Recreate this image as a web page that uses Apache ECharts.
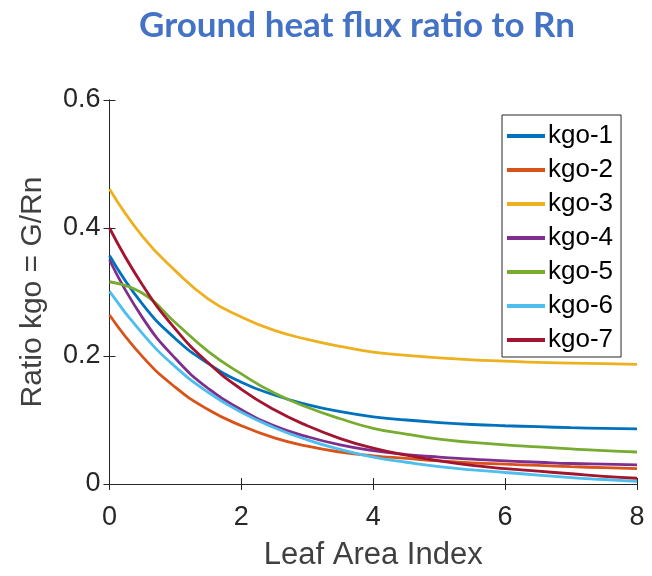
<!DOCTYPE html>
<html>
<head>
<meta charset="utf-8">
<script src="https://cdn.jsdelivr.net/npm/echarts@6/dist/echarts.min.js"></script>
<style>html,body{margin:0;padding:0;background:#fff;}#c{width:652px;height:576px;}</style>
</head>
<body>
<div id="c"></div>
<script>
const xs = [0, 0.5, 1, 1.5, 2, 2.5, 3, 3.5, 4, 4.5, 5, 5.5, 6, 6.5, 7, 7.5, 8];
const kgo1 = [0.357, 0.281, 0.227, 0.188, 0.159, 0.139, 0.124, 0.113, 0.105, 0.100, 0.096, 0.093, 0.091, 0.0895, 0.088, 0.087, 0.086];
const kgo2 = [0.264, 0.199, 0.151, 0.116, 0.091, 0.072, 0.059, 0.050, 0.044, 0.040, 0.036, 0.033, 0.031, 0.029, 0.027, 0.0255, 0.024];
const kgo3 = [0.461, 0.387, 0.333, 0.289, 0.261, 0.240, 0.226, 0.215, 0.206, 0.201, 0.197, 0.194, 0.192, 0.190, 0.189, 0.188, 0.187];
const kgo4 = [0.350, 0.260, 0.196, 0.149, 0.116, 0.091, 0.074, 0.061, 0.052, 0.046, 0.042, 0.039, 0.036, 0.034, 0.032, 0.031, 0.030];
const kgo5 = [0.316, 0.298, 0.252, 0.207, 0.172, 0.142, 0.120, 0.102, 0.087, 0.078, 0.070, 0.065, 0.061, 0.058, 0.055, 0.052, 0.050];
const kgo6 = [0.301, 0.235, 0.183, 0.143, 0.112, 0.088, 0.069, 0.054, 0.042, 0.034, 0.027, 0.022, 0.018, 0.014, 0.010, 0.007, 0.004];
const kgo7 = [0.400, 0.311, 0.242, 0.189, 0.148, 0.116, 0.091, 0.071, 0.056, 0.045, 0.036, 0.029, 0.024, 0.020, 0.016, 0.012, 0.009];
const names = ['kgo-1', 'kgo-2', 'kgo-3', 'kgo-4', 'kgo-5', 'kgo-6', 'kgo-7'];
const colors = ['#0072BD', '#D95319', '#EDB120', '#7E2F8E', '#77AC30', '#4DBEEE', '#A2142F'];
const seriesValues = [kgo1, kgo2, kgo3, kgo4, kgo5, kgo6, kgo7];
const xTicks = [0, 2, 4, 6, 8];
const yTicks = [0, 0.2, 0.4, 0.6];

const font = 'Liberation Sans, Arial, sans-serif';
const chart = echarts.init(document.getElementById('c'));
const axisCommon = {
  axisLine: { show: true, lineStyle: { color: '#262626', width: 1 } },
  axisTick: { show: true, inside: true, length: 6, lineStyle: { color: '#262626' } },
  splitLine: { show: false }
};
chart.setOption({
  animation: false,
  title: {
    text: 'Ground heat flux ratio to Rn',
    left: 352, top: 3, textAlign: 'center',
    textStyle: { fontFamily: 'Lato, Noto Sans, sans-serif', fontWeight: 'bold', fontSize: 35, color: '#4472C4' }
  },
  grid: { left: 109.5, right: 15, top: 100, bottom: 88.5 },
  legend: {
    orient: 'vertical', left: 502, top: 115,
    data: names,
    icon: 'rect', itemWidth: 38, itemHeight: 4, itemGap: 8,
    borderColor: '#262626', borderWidth: 1, backgroundColor: '#fff',
    padding: [8, 8, 4, 5],
    textStyle: { fontFamily: font, fontSize: 26, color: '#000', lineHeight: 26, padding: [0, 0, 0, -2] }
  },
  xAxis: [
    Object.assign({
      type: 'value', min: xTicks[0], max: xTicks[xTicks.length - 1], interval: 2, position: 'bottom',
      name: 'Leaf Area Index', nameLocation: 'middle', nameGap: 56,
      nameTextStyle: { fontFamily: font, fontSize: 31, color: '#404040' },
      axisLabel: { fontFamily: font, fontSize: 27, color: '#262626', margin: 20 }
    }, axisCommon),
    Object.assign({
      type: 'value', min: xTicks[0], max: xTicks[xTicks.length - 1], interval: 2, position: 'top',
      axisLabel: { show: false }
    }, axisCommon)
  ],
  yAxis: [
    Object.assign({
      type: 'value', min: yTicks[0], max: yTicks[yTicks.length - 1], interval: 0.2, position: 'left',
      name: 'Ratio kgo = G/Rn', nameLocation: 'middle', nameGap: 62,
      nameTextStyle: { fontFamily: font, fontSize: 30, color: '#404040' },
      axisLabel: { fontFamily: font, fontSize: 27, color: '#262626', margin: 9,
        formatter: v => (v === 0 ? '0' : v.toFixed(1)) }
    }, axisCommon),
    Object.assign({
      type: 'value', min: yTicks[0], max: yTicks[yTicks.length - 1], interval: 0.2, position: 'right',
      axisLabel: { show: false }
    }, axisCommon)
  ],
  series: names.map((n, i) => ({
    name: n, type: 'line', xAxisIndex: 0, yAxisIndex: 0,
    data: xs.map((x, j) => [x, seriesValues[i][j]]),
    smooth: 0.5, showSymbol: false, symbol: 'none',
    lineStyle: { color: colors[i], width: 2.8 }, itemStyle: { color: colors[i] }
  }))
});
</script>
</body>
</html>
